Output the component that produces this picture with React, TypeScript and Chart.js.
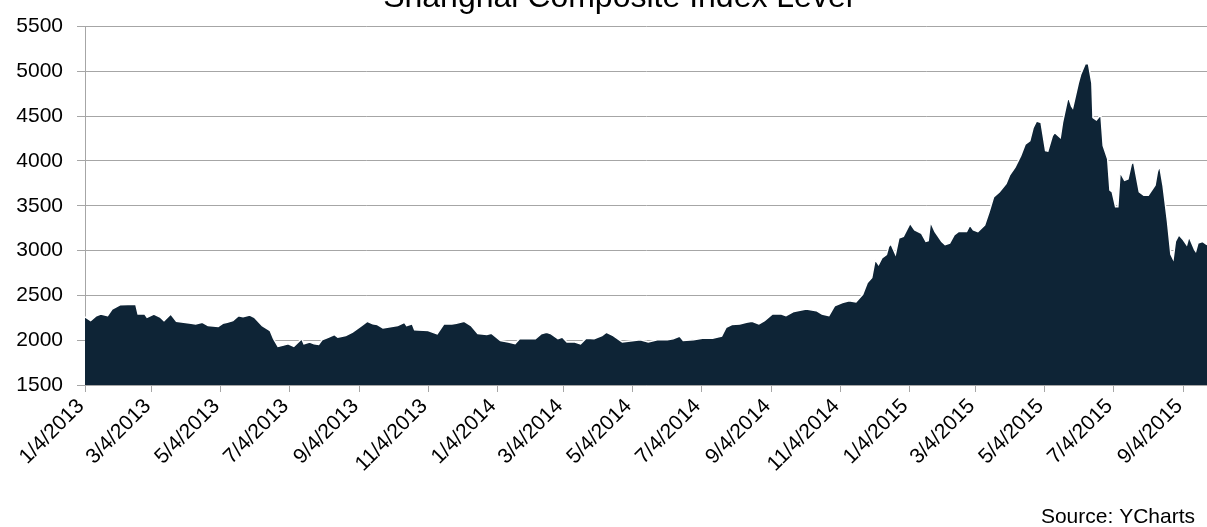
import React, { useEffect, useRef } from 'react';
import { Chart, registerables } from 'chart.js';

Chart.register(...registerables);

const TITLE = 'Shanghai Composite Index Level';
const SOURCE = 'Source: YCharts';

const tickLabels = [
  '1/4/2013', '3/4/2013', '5/4/2013', '7/4/2013', '9/4/2013', '11/4/2013',
  '1/4/2014', '3/4/2014', '5/4/2014', '7/4/2014', '9/4/2014', '11/4/2014',
  '1/4/2015', '3/4/2015', '5/4/2015', '7/4/2015', '9/4/2015',
];

const yTicks = [1500, 2000, 2500, 3000, 3500, 4000, 4500, 5000, 5500];

const dates = [
  '2013-01-04', '2013-01-09', '2013-01-14', '2013-01-18', '2013-01-24', '2013-01-28', '2013-02-04', '2013-02-18',
  '2013-02-20', '2013-02-26', '2013-02-28', '2013-03-06', '2013-03-12', '2013-03-15', '2013-03-21', '2013-03-26',
  '2013-04-08', '2013-04-12', '2013-04-18', '2013-04-23', '2013-05-02', '2013-05-06', '2013-05-10', '2013-05-15',
  '2013-05-20', '2013-05-24', '2013-05-30', '2013-06-03', '2013-06-10', '2013-06-17', '2013-06-20', '2013-06-24',
  '2013-06-28', '2013-07-03', '2013-07-08', '2013-07-15', '2013-07-17', '2013-07-22', '2013-07-26', '2013-07-30',
  '2013-08-02', '2013-08-08', '2013-08-13', '2013-08-16', '2013-08-23', '2013-08-29', '2013-09-06', '2013-09-11',
  '2013-09-16', '2013-09-20', '2013-09-25', '2013-10-08', '2013-10-14', '2013-10-16', '2013-10-21', '2013-10-23',
  '2013-11-04', '2013-11-12', '2013-11-18', '2013-11-25', '2013-11-29', '2013-12-06', '2013-12-12', '2013-12-18',
  '2013-12-26', '2013-12-30', '2014-01-07', '2014-01-14', '2014-01-20', '2014-01-24', '2014-02-07', '2014-02-12',
  '2014-02-17', '2014-02-21', '2014-02-27', '2014-03-03', '2014-03-07', '2014-03-14', '2014-03-19', '2014-03-24',
  '2014-03-31', '2014-04-07', '2014-04-11', '2014-04-17', '2014-04-25', '2014-05-02', '2014-05-11', '2014-05-18',
  '2014-05-26', '2014-06-04', '2014-06-09', '2014-06-15', '2014-06-18', '2014-06-27', '2014-07-05', '2014-07-14',
  '2014-07-22', '2014-07-26', '2014-07-31', '2014-08-07', '2014-08-13', '2014-08-18', '2014-08-24', '2014-08-29',
  '2014-09-05', '2014-09-13', '2014-09-17', '2014-09-24', '2014-10-05', '2014-10-14', '2014-10-19', '2014-10-25',
  '2014-10-30', '2014-11-06', '2014-11-12', '2014-11-18', '2014-11-24', '2014-11-28', '2014-12-02', '2014-12-05',
  '2014-12-08', '2014-12-11', '2014-12-15', '2014-12-17', '2014-12-19', '2014-12-23', '2014-12-26', '2014-12-30',
  '2015-01-05', '2015-01-09', '2015-01-15', '2015-01-19', '2015-01-21', '2015-01-23', '2015-01-27', '2015-02-02',
  '2015-02-05', '2015-02-09', '2015-02-13', '2015-02-17', '2015-02-24', '2015-02-27', '2015-03-02', '2015-03-06',
  '2015-03-12', '2015-03-16', '2015-03-20', '2015-03-25', '2015-03-31', '2015-04-03', '2015-04-08', '2015-04-13',
  '2015-04-17', '2015-04-21', '2015-04-24', '2015-04-27', '2015-05-01', '2015-05-05', '2015-05-07', '2015-05-11',
  '2015-05-13', '2015-05-18', '2015-05-20', '2015-05-25', '2015-05-28', '2015-05-29', '2015-06-03', '2015-06-05',
  '2015-06-09', '2015-06-12', '2015-06-15', '2015-06-16', '2015-06-19', '2015-06-23', '2015-06-25', '2015-06-29',
  '2015-07-01', '2015-07-03', '2015-07-06', '2015-07-08', '2015-07-10', '2015-07-14', '2015-07-17', '2015-07-20',
  '2015-07-22', '2015-07-27', '2015-07-31', '2015-08-04', '2015-08-10', '2015-08-12', '2015-08-14', '2015-08-17',
  '2015-08-21', '2015-08-24', '2015-08-26', '2015-08-28', '2015-08-31', '2015-09-04', '2015-09-07', '2015-09-09',
  '2015-09-14', '2015-09-15', '2015-09-17', '2015-09-21', '2015-09-25',
];

const values = [
  2260, 2218, 2273, 2292, 2273, 2347, 2395, 2400,
  2292, 2292, 2255, 2292, 2255, 2218, 2292, 2211,
  2188, 2181, 2200, 2163, 2152, 2188, 2200, 2218,
  2273, 2262, 2281, 2255, 2163, 2108, 2016, 1931,
  1942, 1960, 1931, 2016, 1960, 1979, 1960, 1953,
  2005, 2034, 2063, 2034, 2052, 2089, 2163, 2211,
  2182, 2175, 2137, 2163, 2200, 2163, 2182, 2115,
  2108, 2071, 2182, 2182, 2188, 2211, 2163, 2075,
  2063, 2078, 1997, 1979, 1960, 2016, 2016, 2071,
  2089, 2071, 2016, 2034, 1979, 1979, 1960, 2023,
  2016, 2052, 2089, 2052, 1979, 1990, 2005, 1979,
  2005, 2005, 2016, 2045, 1997, 2005, 2023, 2023,
  2045, 2145, 2175, 2182, 2200, 2211, 2182, 2218,
  2292, 2292, 2273, 2321, 2347, 2329, 2292, 2273,
  2384, 2421, 2440, 2428, 2513, 2642, 2697, 2900,
  2845, 2918, 2955, 3047, 3073, 2962, 3139, 3158,
  3305, 3231, 3194, 3102, 3110, 3323, 3213, 3102,
  3066, 3084, 3176, 3213, 3213, 3286, 3231, 3213,
  3286, 3434, 3600, 3655, 3747, 3839, 3931, 4060,
  4189, 4226, 4373, 4447, 4428, 4116, 4110, 4281,
  4318, 4263, 4428, 4723, 4613, 4594, 4870, 4962,
  5084, 5084, 4870, 4484, 4458, 4520, 4171, 4023,
  3674, 3655, 3489, 3489, 3876, 3784, 3800, 3968,
  3990, 3655, 3618, 3618, 3729, 3876, 3950, 3729,
  3323, 2958, 2907, 3102, 3176, 3121, 3066, 3158,
  3011, 2992, 3084, 3102, 3066,
];

const DAY_MS = 86400000;
const ORIGIN = Date.UTC(2013, 0, 4);
const dayOf = (y: number, m: number, d: number) => (Date.UTC(y, m - 1, d) - ORIGIN) / DAY_MS;
const isoDay = (s: string) => {
  const [y, m, d] = s.split('-').map(Number);
  return dayOf(y, m, d);
};
const mdyDay = (s: string) => {
  const [m, d, y] = s.split('/').map(Number);
  return dayOf(y, m, d);
};

const FONT = '"Liberation Sans", Arial, Helvetica, sans-serif';
const FILL = '#0e2436';
const GRID = '#a6a6a6';

const textPlugin = {
  id: 'chartTexts',
  afterDraw(chart: any) {
    const ctx = chart.ctx;
    ctx.save();
    ctx.fillStyle = '#000000';
    ctx.textBaseline = 'alphabetic';
    ctx.font = `32px ${FONT}`;
    ctx.textAlign = 'center';
    ctx.fillText(TITLE, 618, 7);
    ctx.font = `21px ${FONT}`;
    ctx.textAlign = 'right';
    ctx.fillText(SOURCE, 1195, 523);
    ctx.restore();
  },
};

export default function App() {
  const ref = useRef<HTMLCanvasElement | null>(null);

  useEffect(() => {
    if (!ref.current) return;
    const points = dates.map((d, i) => ({ x: isoDay(d), y: values[i] }));
    const lastDay = isoDay(dates[dates.length - 1]);
    const chart = new Chart(ref.current, {
      type: 'line',
      data: {
        datasets: [
          {
            data: points,
            fill: 'start',
            backgroundColor: FILL,
            borderColor: '#ffffff',
            borderWidth: 1.5,
            pointRadius: 0,
            tension: 0,
          },
        ],
      },
      options: {
        animation: false,
        responsive: false,
        maintainAspectRatio: false,
        layout: { padding: { top: 23, right: 0, bottom: 0, left: 0 } },
        plugins: {
          legend: { display: false },
          tooltip: { enabled: false },
          title: { display: false },
        },
        scales: {
          x: {
            type: 'linear',
            min: 0,
            max: lastDay,
            afterBuildTicks: (s: any) => {
              s.ticks = tickLabels.map((l) => ({ value: mdyDay(l) }));
            },
            afterFit: (s: any) => {
              s.height = 142;
            },
            grid: { drawOnChartArea: false, color: GRID, tickLength: 7 },
            border: { color: GRID, width: 1 },
            ticks: {
              autoSkip: false,
              maxRotation: 45,
              minRotation: 45,
              color: '#000000',
              padding: 2,
              labelOffset: -4,
              font: { family: FONT, size: 21 },
              callback: (_v: any, i: number) => tickLabels[i],
            },
          },
          y: {
            min: 1500,
            max: 5500,
            afterBuildTicks: (s: any) => {
              s.ticks = yTicks.map((v) => ({ value: v }));
            },
            afterFit: (s: any) => {
              s.width = 85;
            },
            grid: { color: GRID, lineWidth: 1, tickLength: 8 },
            border: { color: GRID, width: 1 },
            ticks: {
              color: '#000000',
              padding: 14,
              font: { family: FONT, size: 21 },
              callback: (v: any) => String(v),
            },
          },
        },
      },
      plugins: [textPlugin],
    });
    return () => chart.destroy();
  }, []);

  return (
    <div style={{ position: 'absolute', left: 0, top: 0, width: 1207, height: 527, background: '#ffffff' }}>
      <canvas ref={ref} width={1207} height={527} style={{ display: 'block' }} />
    </div>
  );
}
